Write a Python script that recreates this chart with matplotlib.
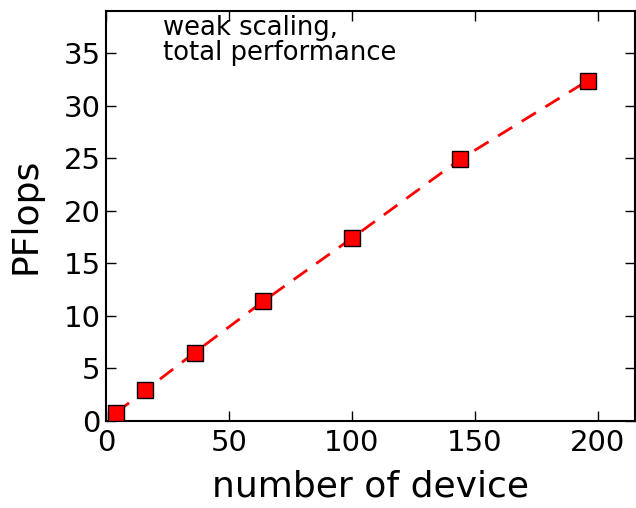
#!/usr/bin/env python3
"""Weak scaling: total performance (PFlops) vs number of devices."""

import matplotlib
matplotlib.use("Agg")
import matplotlib.pyplot as plt

# data
devices = [4, 16, 36, 64, 100, 144, 196]
pflops = [0.76, 2.92, 6.5, 11.4, 17.4, 24.9, 32.4]

x_ticks = [0, 50, 100, 150, 200]
y_ticks = [0, 5, 10, 15, 20, 25, 30, 35]


def main():
    fig = plt.figure(figsize=(6.36, 5.08), dpi=100)
    ax = fig.add_axes([0.1667, 0.1713, 0.8313, 0.8067])

    ax.plot(devices, pflops, "r--", lw=2, dashes=(6, 4), zorder=2)
    ax.plot(devices, pflops, "s", ms=12, mfc="red", mec="black", mew=1.0, zorder=3)

    ax.set_xlim(0, 215); ax.set_ylim(0, 39)
    ax.set_xticks(x_ticks); ax.set_yticks(y_ticks)
    ax.tick_params(direction="in", top=True, right=True, length=7, width=1, labelsize=21)
    ax.tick_params(axis="x", pad=6)
    ax.tick_params(axis="y", pad=4)
    for s in ax.spines.values():
        s.set_linewidth(1.5)

    ax.set_xlabel("number of device", fontsize=26, labelpad=9)
    ax.set_ylabel("PFlops", fontsize=26, labelpad=15)
    ax.text(23, 38.6, "weak scaling,\ntotal performance", fontsize=18.6, va="top", ha="left",
            linespacing=0.95)

    fig.savefig("out.png", dpi=100)
    plt.close(fig)


if __name__ == "__main__":
    main()
